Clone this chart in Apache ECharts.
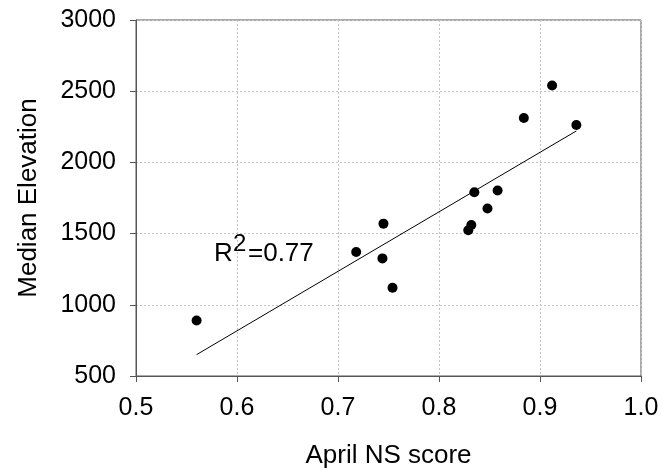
<!DOCTYPE html>
<html>
<head>
<meta charset="utf-8">
<script src="https://cdn.jsdelivr.net/npm/echarts@6/dist/echarts.min.js"></script>
<style>
  html, body { margin: 0; padding: 0; background: #fff; }
  #chart { width: 664px; height: 475px; }
</style>
</head>
<body>
<div id="chart"></div>
<script>
// April NS score vs. median basin elevation
const nsScore   = [0.912, 0.884, 0.936, 0.835, 0.858, 0.848, 0.745, 0.832, 0.829, 0.718, 0.744, 0.754, 0.560];
const elevation = [2540, 2312, 2263, 1791, 1803, 1676, 1570, 1561, 1523, 1371, 1326, 1120, 890];

// least-squares fit line end points
const fitX = [0.560, 0.936];
const fitY = [650, 2221];

const rSquared = '0.77';

const xTicks = { min: 0.5, max: 1.0, interval: 0.1 };
const yTicks = { min: 500, max: 3000, interval: 500 };

const FONT = 'Liberation Sans, Arial, Helvetica, sans-serif';

const points = nsScore.map((x, i) => [x, elevation[i]]);
const fitLine = fitX.map((x, i) => [x, fitY[i]]);

const chart = echarts.init(document.getElementById('chart'), null, { renderer: 'canvas' });

// R² annotation: main glyphs and a raised superscript "2"
const labelStyle = (text, size) => ({
  text, fontFamily: FONT, fontSize: size, fill: '#000',
  align: 'left', verticalAlign: 'middle'
});

chart.setOption({
  animation: false,
  backgroundColor: '#ffffff',
  grid: {
    left: 136, right: 23, top: 20, bottom: 99,
    show: true, borderColor: '#555', borderWidth: 1, backgroundColor: 'transparent'
  },
  xAxis: {
    type: 'value',
    min: xTicks.min, max: xTicks.max, interval: xTicks.interval,
    name: 'April NS score',
    nameLocation: 'middle',
    nameGap: 67,
    nameTextStyle: { fontFamily: FONT, fontSize: 26, color: '#000' },
    axisLine: { show: true, lineStyle: { color: '#555', width: 1 } },
    axisTick: { show: true, length: 6, lineStyle: { color: '#555' } },
    axisLabel: {
      fontFamily: FONT, fontSize: 25, color: '#000', margin: 20,
      formatter: v => v.toFixed(1)
    },
    splitLine: { show: true, lineStyle: { color: '#c4c4c4', type: [2, 2], width: 1 } }
  },
  yAxis: {
    type: 'value',
    min: yTicks.min, max: yTicks.max, interval: yTicks.interval,
    name: 'Median Elevation',
    nameLocation: 'middle',
    nameGap: 94,
    nameTextStyle: { fontFamily: FONT, fontSize: 26, color: '#000' },
    axisLine: { show: true, lineStyle: { color: '#555', width: 1 } },
    axisTick: { show: true, length: 6, lineStyle: { color: '#555' } },
    axisLabel: {
      fontFamily: FONT, fontSize: 25, color: '#000', margin: 20,
      formatter: v => String(v)
    },
    splitLine: { show: true, lineStyle: { color: '#c4c4c4', type: [2, 2], width: 1 } }
  },
  series: [
    {
      type: 'line',
      data: fitLine,
      showSymbol: false,
      lineStyle: { color: '#000', width: 1 },
      silent: true,
      z: 2
    },
    {
      type: 'scatter',
      data: points,
      symbol: 'circle',
      symbolSize: 10,
      itemStyle: { color: '#000', opacity: 1 },
      z: 3
    }
  ],
  graphic: [
    { type: 'text', x: 214, y: 254, style: labelStyle('R', 26) },
    { type: 'text', x: 233, y: 244, style: labelStyle('2', 24) },
    { type: 'text', x: 248, y: 254, style: labelStyle('=' + rSquared, 26) }
  ]
});
</script>
</body>
</html>
